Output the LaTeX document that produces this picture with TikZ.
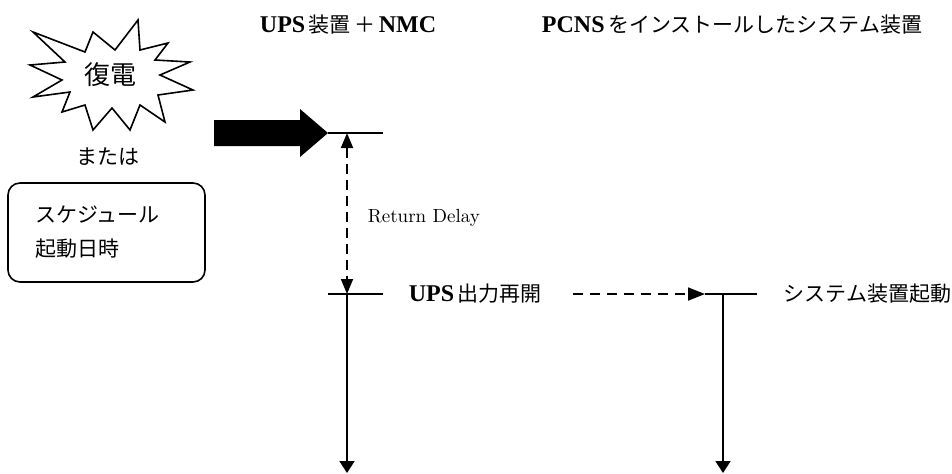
\documentclass[tikz,border=0pt]{standalone}
\usepackage{fontspec}
\newfontfamily\jpfont{Noto Sans CJK JP}
\newfontfamily\tmfont{Liberation Serif}
\usetikzlibrary{arrows.meta}
\newcommand{\jp}[1]{{\jpfont #1}}
\newcommand{\lat}[1]{{\tmfont\bfseries\fontsize{12}{13}\selectfont #1}}
\begin{document}
\begin{tikzpicture}[x=0.5pt,y=-0.5pt,line width=0.9pt]
	\tikzstyle{label}=[inner sep=0pt,font=\fontsize{10.5}{13}\selectfont]
	\tikzstyle{title}=[label,anchor=center]
	\tikzstyle{schedbox}=[draw,rounded corners=6pt,minimum width=98.5pt,minimum height=49.5pt,inner xsep=13.5pt,text width=71.5pt,align=left,font=\fontsize{10.5}{17}\selectfont]
	\tikzstyle{delay}=[dashed,dash pattern=on 5pt off 3pt,{Triangle[length=7.5pt,width=6pt]}-{Triangle[length=7.5pt,width=6pt]}]
	\tikzstyle{signal}=[dash pattern=on 5pt off 3.5pt,-{Triangle[length=8.5pt,width=6.5pt]}]
	\tikzstyle{timeline}=[-{Triangle[length=6pt,width=7.5pt]}]
	\useasboundingbox (0,0) rectangle (952,473);
	% titles
	\node[title] (T-ups) at (348,25) {\lat{UPS}\,\jp{装置}\,\jp{＋}\,\lat{NMC}};
	\node[title] (T-sys) at (732,25) {\lat{PCNS}\,\jp{をインストールしたシステム装置}};
	% power return / schedule
	\draw[fill=white,line width=0.8pt,line join=miter] (33,32) -- (85,52) -- (93,32) -- (115,50) -- (138,20) -- (140,50) -- (168,43) -- (155,60) -- (190,62) -- (160,75) -- (193,90) -- (158,95) -- (165,122) -- (140,105) -- (130,130) -- (112,108) -- (93,130) -- (85,105) -- (62,112) -- (70,92) -- (33,97) -- (62,80) -- (30,65) -- (65,62) -- cycle;
	\node[label,font=\fontsize{13}{15}\selectfont] (P-back) at (110,75) {\jp{復電}};
	\node[label] (P-or) at (108,157) {\jp{または}};
	\node[schedbox,line width=0.8pt] (P-sched) at (106.5,232.5) {\jp{スケジュール}\\\jp{起動日時}};
	\fill (214,120) -- (300,120) -- (300,109) -- (328,133) -- (300,157) -- (300,146) -- (214,146) -- cycle;
	% UPS side
	\coordinate (U-ret) at (347,133);
	\coordinate (U-on) at (347,294);
	\coordinate (U-end) at (347,473);
	\coordinate (U-aw) at (328,133);
	\coordinate (U-ae) at (383,133);
	\coordinate (U-bw) at (328,294);
	\coordinate (U-be) at (383,294);
	\draw (U-aw) -- (U-ae);
	\draw (U-bw) -- (U-be);
	\draw[delay] (U-ret) -- (U-on);
	\draw[timeline] (U-on) -- (U-end);
	\node[label,font=\fontsize{9.5}{11}\selectfont,anchor=west] (U-delay) at (367,218) {Return Delay};
	\node[label,anchor=west] (U-out) at (408,294) {\lat{UPS}\,\jp{出力再開}};
	% system side
	\coordinate (S-from) at (573,294);
	\coordinate (S-in) at (705,294);
	\coordinate (S-e) at (757,294);
	\coordinate (S-on) at (723,294);
	\coordinate (S-end) at (723,473);
	\draw[signal] (S-from) -- (S-in);
	\draw (S-in) -- (S-e);
	\draw[timeline] (S-on) -- (S-end);
	\node[label,anchor=west] (S-boot) at (783,294) {\jp{システム装置起動}};
\end{tikzpicture}
\end{document}
